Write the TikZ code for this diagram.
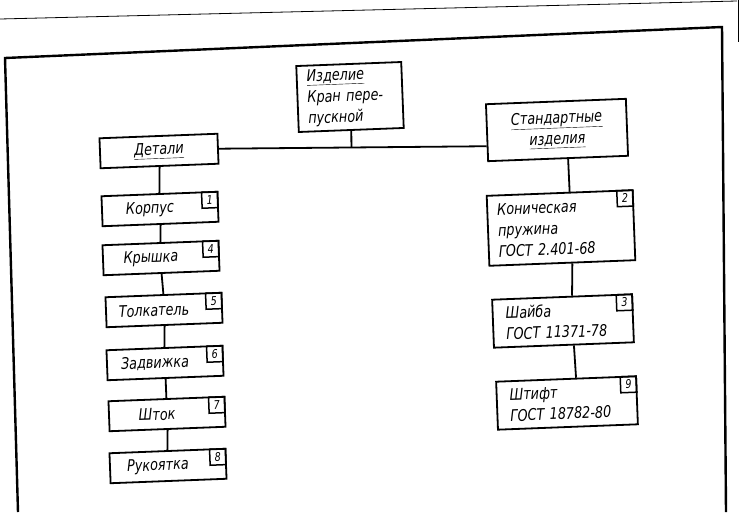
\documentclass[tikz,border=0pt]{standalone}
\usepackage{fontspec}
\newfontfamily\gost{DejaVu Sans}[FakeStretch=0.8]
\usetikzlibrary{calc}
\begin{document}
\begin{tikzpicture}[x=1pt,y=-1pt,
  box/.style={draw, line width=1.8pt, rotate=2.2, inner sep=0pt,
    font=\gost\itshape\fontsize{16}{21}\selectfont},
  lbox/.style={box, minimum width=116pt, minimum height=30pt},
  rbox/.style={box, align=left},
  numbox/.style={draw, line width=1.5pt, rotate=2.2, minimum width=16pt,
    minimum height=16pt, inner sep=0pt, anchor=north east,
    font=\gost\itshape\fontsize{12}{12}\selectfont},
  link/.style={line width=1.8pt},
  frameline/.style={line width=2.4pt},
]
\useasboundingbox (0,0) rectangle (741,512);
\fill[white] (0,0) rectangle (741,512);

% page edges and frame
\draw[line width=0.8pt] (0,19) -- (737,1);
\draw[line width=0.6pt] (738,0) -- (738,42);
\draw[frameline] (18,512) -- (5,58) -- (722,27) -- (726,512);

% top node
\node[box, minimum width=105pt, minimum height=66pt, text width=85pt, align=left]
  (izd) at (350,97) {\underline{Изделие}\\Кран пере-\\пускной};

% groups
\node[box, minimum width=118pt, minimum height=30pt] (det) at (159,151) {\underline{Детали}};
\node[box, minimum width=140pt, minimum height=57pt, align=center]
  (std) at (557,130) {\underline{Стандартные}\\\underline{изделия}};

% left column
\node[lbox] (korp)  at (160,209) {Корпус\hspace*{20pt}};
\node[lbox] (kry)   at (161,258) {Крышка\hspace*{20pt}};
\node[lbox] (tolk)  at (164,310) {Толкатель\hspace*{20pt}};
\node[lbox] (zadv)  at (165,363) {Задвижка\hspace*{20pt}};
\node[lbox] (shtok) at (167,414) {Шток\hspace*{20pt}};
\node[lbox] (ruk)   at (168,466) {Рукоятка\hspace*{20pt}};

% right column
\node[rbox, minimum width=146pt, minimum height=70pt, text width=126pt]
  (kon) at (561,228) {Коническая\\пружина\\ГОСТ 2.401-68};
\node[rbox, minimum width=140pt, minimum height=48pt, text width=114pt]
  (shay) at (563,321) {Шайба\\ГОСТ 11371-78};
\node[rbox, minimum width=140pt, minimum height=48pt, text width=114pt]
  (sht) at (567,403) {Штифт\\ГОСТ 18782-80};

% number boxes
\node[numbox] (n1) at (korp.north east) {1};
\node[numbox] (n4) at (kry.north east) {4};
\node[numbox] (n5) at (tolk.north east) {5};
\node[numbox] (n6) at (zadv.north east) {6};
\node[numbox] (n7) at (shtok.north east) {7};
\node[numbox] (n8) at (ruk.north east) {8};
\node[numbox] (n2) at (kon.north east) {2};
\node[numbox] (n3) at (shay.north east) {3};
\node[numbox] (n9) at (sht.north east) {9};

% connectors
\coordinate (stdj) at ($(std.south west)!0.27!(std.north west)$);
\coordinate (izdj) at ($(det.east)!(izd.south)!(stdj)$);
\draw[link] (det.east) -- (stdj);
\draw[link] (izd.south) -- (izdj);

\draw[link] (det.south) -- (korp.north);
\draw[link] (korp.south) -- (kry.north);
\draw[link] (kry.south) -- (tolk.north);
\draw[link] (tolk.south) -- (zadv.north);
\draw[link] (zadv.south) -- (shtok.north);
\draw[link] (shtok.south) -- (ruk.north);

\coordinate (s1) at ($(std.south)!10pt!(std.south east)$);
\coordinate (k1) at ($(kon.north)!10pt!(kon.north east)$);
\coordinate (k2) at ($(kon.south)!10pt!(kon.south east)$);
\coordinate (h1) at ($(shay.north)!10pt!(shay.north east)$);
\coordinate (h2) at ($(shay.south)!10pt!(shay.south east)$);
\coordinate (t1) at ($(sht.north)!10pt!(sht.north east)$);
\draw[link] (s1) -- (k1);
\draw[link] (k2) -- (h1);
\draw[link] (h2) -- (t1);
\end{tikzpicture}
\end{document}
